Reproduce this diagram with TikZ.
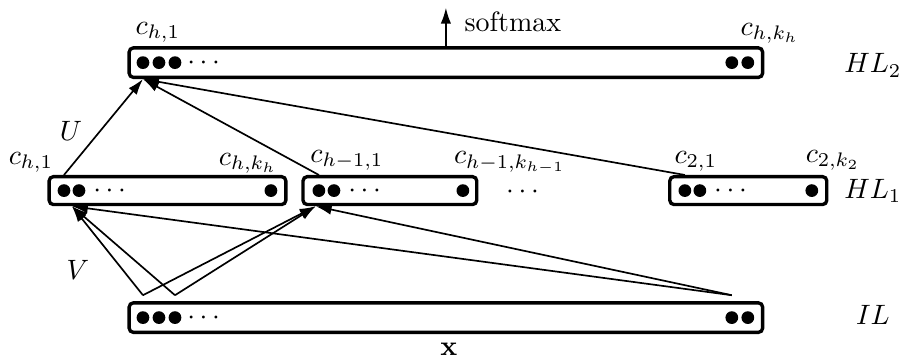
\documentclass[tikz,border=0pt]{standalone}
\usepackage{amsmath,amssymb}
\usepackage{tikz}
\usetikzlibrary{arrows.meta, positioning, calc}

\begin{document}
\begin{tikzpicture}[
    layer/.style={rectangle, draw, very thick, rounded corners=1.5pt, minimum height=0.37cm, inner sep=0pt},
    unit/.style={circle, fill=black, inner sep=0pt, minimum size=0.16cm},
    more/.style={inner sep=0pt},
    conn/.style={-{Latex[length=2mm, width=1.3mm]}, semithick},
    lbl/.style={inner sep=1pt},
]
\useasboundingbox (0,0) rectangle (11.32,4.50);

% Layer boxes
\node[layer, minimum width=7.95cm] (HL2) at (5.596,3.714) {};
\node[layer, minimum width=2.97cm, minimum height=0.35cm] (A) at (2.102,2.108) {};
\node[layer, minimum width=2.18cm, minimum height=0.35cm] (B) at (4.893,2.108) {};
\node[layer, minimum width=1.97cm, minimum height=0.35cm] (C) at (9.391,2.108) {};
\node[layer, minimum width=7.95cm] (IL) at (5.596,0.514) {};

% Units of HL_2 and IL
\foreach \x [count=\i] in {1.794,1.995,2.196} {
    \node[unit] (h\i) at (\x,3.714) {};
    \node[unit] (x\i) at (\x,0.514) {};
}
\foreach \x [count=\i] in {9.184,9.385} {
    \node[unit] (hr\i) at (\x,3.714) {};
    \node[unit] (xr\i) at (\x,0.514) {};
}
\node[more] (hdots) at (2.585,3.70) {$\cdots$};
\node[more] (xdots) at (2.585,0.50) {$\cdots$};

% Units of HL_1
\node[unit] (a1) at (0.803,2.108) {};
\node[unit] (a2) at (0.991,2.108) {};
\node[more] (adots) at (1.405,2.095) {$\cdots$};
\node[unit] (ar) at (3.400,2.108) {};

\node[unit] (b1) at (4.002,2.108) {};
\node[unit] (b2) at (4.191,2.108) {};
\node[more] (bdots) at (4.605,2.095) {$\cdots$};
\node[unit] (br) at (5.809,2.108) {};

\node[more] (gap) at (6.587,2.083) {$\cdots$};

\node[unit] (c1) at (8.595,2.108) {};
\node[unit] (c2) at (8.783,2.108) {};
\node[more] (cdots) at (9.197,2.095) {$\cdots$};
\node[unit] (cr) at (10.188,2.108) {};

% Labels
\node[lbl] (lh1) at (1.982,4.09) {$c_{h,1}$};
\node[lbl] (lhk) at (9.661,4.078) {$c_{h,k_h}$};
\node[lbl] (lsoft) at (6.437,4.228) {softmax};
\node[lbl] (la1) at (0.389,2.459) {$c_{h,1}$};
\node[lbl] (lak) at (3.112,2.447) {$c_{h,k_h}$};
\node[lbl] (lb1) at (4.354,2.484) {$c_{h-1,1}$};
\node[lbl] (lbk) at (6.399,2.459) {$c_{h-1,k_{h-1}}$};
\node[lbl] (lc1) at (8.733,2.472) {$c_{2,1}$};
\node[lbl] (lck) at (10.452,2.484) {$c_{2,k_2}$};
\node[lbl] (nHL2) at (10.954,3.68) {$HL_2$};
\node[lbl] (nHL1) at (10.954,2.108) {$HL_1$};
\node[lbl] (nIL) at (10.954,0.552) {$IL$};
\node[lbl] (nU) at (0.891,2.861) {$U$};
\node[lbl] (nV) at (0.979,1.117) {$V$};
\node[lbl] (nx) at (5.634,0.113) {$\mathbf{x}$};

% Connectors HL_1 -> HL_2
\draw[conn] (a1 |- A.north) -- (h1 |- HL2.south);
\draw[conn] (b1 |- B.north) -- (h1 |- HL2.south);
\draw[conn] (c1 |- C.north) -- (h1 |- HL2.south);

% Connectors IL -> HL_1
\coordinate (ain) at ($(a1 |- A.south)+(0.1,0)$);
\coordinate (bin) at ($(b1 |- B.south)+(-0.04,0)$);
\foreach \s in {x1,x3,xr1} {
    \coordinate (s) at ($(\s |- IL.north)+(0,0.075)$);
    \draw[conn] (s) -- (ain);
    \draw[conn] (s) -- (bin);
}

% Output
\coordinate (out) at (5.596,4.404);
\draw[conn] (HL2.north) -- (out);

\end{tikzpicture}
\end{document}
